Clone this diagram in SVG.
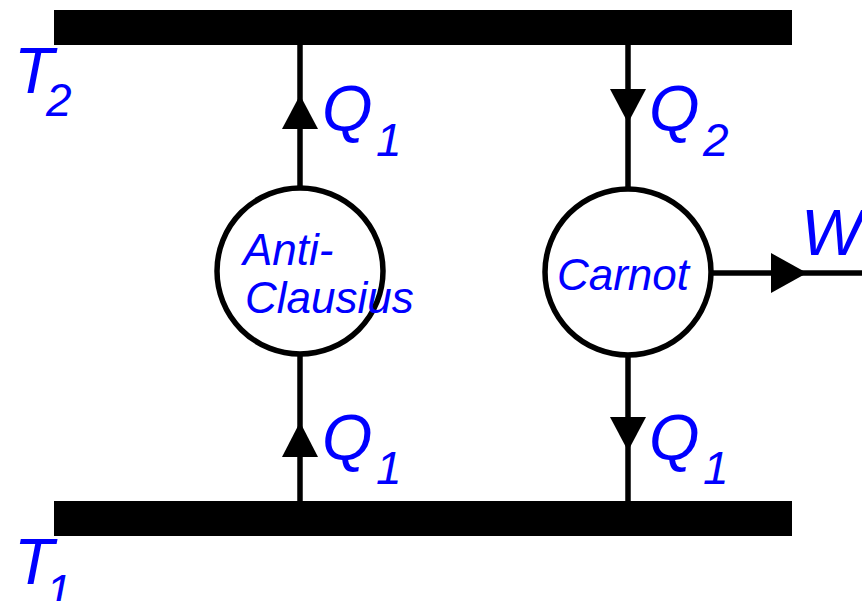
<svg xmlns="http://www.w3.org/2000/svg" width="862" height="601" viewBox="0 0 862 601">
<style>
.lbl{font-family:"Liberation Sans",Arial,sans-serif;font-style:italic;fill:#0000ff}
.big{font-size:65px}
.sub{font-size:46px}
.eng{font-size:44px}
.wire{stroke:#000;stroke-width:5.5;fill:none}
.head{fill:#000}
.node{fill:#fff;stroke:#000;stroke-width:5.5}
</style>
<rect width="862" height="601" fill="#fff"/>
<g id="reservoir-T2">
<rect x="54" y="10" width="738" height="35" fill="#000"/>
<text class="lbl big" x="14" y="93">T</text>
<text class="lbl sub" x="46" y="116">2</text>
</g>
<g id="reservoir-T1">
<rect x="54" y="501" width="738" height="35" fill="#000"/>
<text class="lbl big" x="14" y="584">T</text>
<text class="lbl sub" x="46" y="607">1</text>
</g>
<g id="connectors">
<line class="wire" x1="300" y1="45" x2="300" y2="188"/>
<polygon class="head" points="300,95 282,129 318,129"/>
<line class="wire" x1="300" y1="355" x2="300" y2="501"/>
<polygon class="head" points="300,422 282,457 318,457"/>
<line class="wire" x1="628" y1="45" x2="628" y2="188"/>
<polygon class="head" points="628,123 610,89 646,89"/>
<line class="wire" x1="628" y1="355" x2="628" y2="501"/>
<polygon class="head" points="628,451 610,417 646,417"/>
<line class="wire" x1="712" y1="273" x2="862" y2="273"/>
<polygon class="head" points="807,273 771,253 771,293"/>
<text class="lbl big" x="322" y="131">Q</text>
<text class="lbl sub" x="376" y="156">1</text>
<text class="lbl big" x="649" y="131">Q</text>
<text class="lbl sub" x="703" y="156">2</text>
<text class="lbl big" x="322" y="460">Q</text>
<text class="lbl sub" x="376" y="484">1</text>
<text class="lbl big" x="649" y="460">Q</text>
<text class="lbl sub" x="703" y="484">1</text>
<text class="lbl big" x="801" y="255">W</text>
</g>
<g id="anti-clausius">
<circle class="node" cx="300" cy="271" r="83"/>
<text class="lbl eng" x="243" y="265">Anti-</text>
<text class="lbl eng" x="245" y="313">Clausius</text>
</g>
<g id="carnot">
<circle class="node" cx="628" cy="272" r="83"/>
<text class="lbl eng" x="623" y="290" text-anchor="middle">Carnot</text>
</g>
</svg>
